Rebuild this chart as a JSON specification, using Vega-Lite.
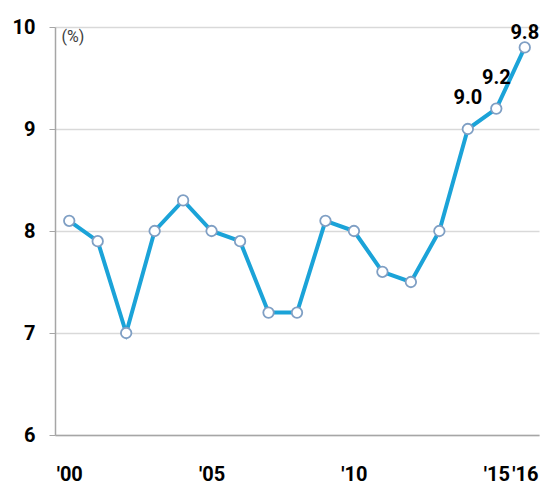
{
  "$schema": "https://vega.github.io/schema/vega-lite/v6.json",
  "width": 484,
  "height": 408,
  "autosize": {"type": "none"},
  "padding": {"left": 55, "top": 27, "right": 3, "bottom": 53},
  "background": "white",
  "config": {
    "view": {"stroke": null},
    "font": "Roboto, sans-serif"
  },
  "data": {
    "values": [
      {"year": 2000, "rate": 8.1},
      {"year": 2001, "rate": 7.9},
      {"year": 2002, "rate": 7.0},
      {"year": 2003, "rate": 8.0},
      {"year": 2004, "rate": 8.3},
      {"year": 2005, "rate": 8.0},
      {"year": 2006, "rate": 7.9},
      {"year": 2007, "rate": 7.2},
      {"year": 2008, "rate": 7.2},
      {"year": 2009, "rate": 8.1},
      {"year": 2010, "rate": 8.0},
      {"year": 2011, "rate": 7.6},
      {"year": 2012, "rate": 7.5},
      {"year": 2013, "rate": 8.0},
      {"year": 2014, "rate": 9.0},
      {"year": 2015, "rate": 9.2},
      {"year": 2016, "rate": 9.8}
    ]
  },
  "encoding": {
    "x": {
      "field": "year",
      "type": "quantitative",
      "scale": {"domain": [1999.5, 2016.5], "nice": false, "zero": false},
      "axis": {
        "values": [2000, 2005, 2010, 2015, 2016],
        "labelExpr": "\"'\" + slice(toString(datum.value), 2)",
        "title": null,
        "grid": false,
        "domainColor": "#a6a6a6",
        "domainWidth": 1.5,
        "ticks": false,
        "labelFont": "Roboto, sans-serif",
        "labelFontSize": 20,
        "labelFontWeight": "bold",
        "labelColor": "#000000",
        "labelPadding": 29,
        "labelBaseline": "top",
        "labelFlush": false,
        "labelOverlap": false
      }
    },
    "y": {
      "field": "rate",
      "type": "quantitative",
      "scale": {"domain": [6, 10], "nice": false, "zero": false},
      "axis": {
        "values": [6, 7, 8, 9, 10],
        "tickSize": 6,
        "tickColor": "#a6a6a6",
        "domainColor": "#a6a6a6",
        "domainWidth": 1.5,
        "gridColor": "#d9d9d9",
        "gridWidth": 1.5,
        "labelFont": "Roboto, sans-serif",
        "labelFontSize": 20,
        "labelFontWeight": "bold",
        "labelColor": "#000000",
        "labelPadding": 14,
        "labelFlush": false,
        "title": "(%)",
        "titleAngle": 0,
        "titleX": 6,
        "titleY": 1,
        "titleAlign": "left",
        "titleBaseline": "top",
        "titleFontWeight": "normal",
        "titleFontSize": 16,
        "titleColor": "#404040",
        "titleFont": "Roboto, sans-serif"
      }
    }
  },
  "layer": [
    {"mark": {"type": "line", "color": "#1ba3d8", "strokeWidth": 4}},
    {
      "mark": {
        "type": "point",
        "filled": true,
        "fill": "#ffffff",
        "stroke": "#7f9fc4",
        "strokeWidth": 1.8,
        "size": 110,
        "opacity": 1
      }
    },
    {
      "transform": [{"filter": "datum.year == 2014 || datum.year == 2015"}],
      "mark": {
        "type": "text",
        "dy": -31,
        "fontSize": 20,
        "fontWeight": "bold",
        "color": "#000000",
        "font": "Roboto, sans-serif"
      },
      "encoding": {"text": {"field": "rate", "type": "quantitative", "format": ".1f"}}
    },
    {
      "transform": [{"filter": "datum.year == 2016"}],
      "mark": {
        "type": "text",
        "dy": -14,
        "fontSize": 20,
        "fontWeight": "bold",
        "color": "#000000",
        "font": "Roboto, sans-serif"
      },
      "encoding": {"text": {"field": "rate", "type": "quantitative", "format": ".1f"}}
    }
  ]
}
